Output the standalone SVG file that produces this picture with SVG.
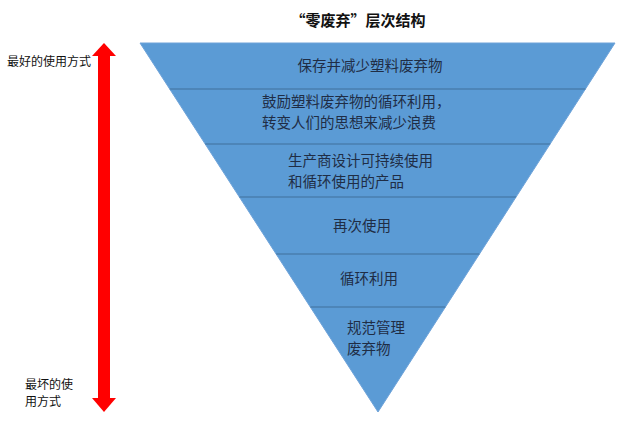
<svg xmlns="http://www.w3.org/2000/svg" width="640" height="429" viewBox="0 0 640 429">
<style>
.t{font-family:"Noto Sans CJK SC","Noto Sans CJK JP",sans-serif;font-size:14.5px;fill:#1f2d45}
.s{font-family:"Noto Sans CJK SC","Noto Sans CJK JP",sans-serif;font-size:12px;fill:#111}
.ttl{font-family:"Noto Sans CJK SC","Noto Sans CJK JP",sans-serif;font-size:15px;font-weight:bold;fill:#111}
.div{stroke:#41719c;stroke-width:1.2}
</style>
<rect width="640" height="429" fill="#fff"/>
<text class="ttl" x="358" y="26" text-anchor="middle">“零废弃”层次结构</text>
<g id="pyramid">
<polygon points="140,43 615,43 378,412" fill="#5b9bd5" stroke="#6fa3d9" stroke-width="1"/>
</g>
<g id="connectors">
<line class="div" x1="169.7" y1="89" x2="585.6" y2="89"/>
<line class="div" x1="205.2" y1="144" x2="550.2" y2="144"/>
<line class="div" x1="239.4" y1="197" x2="516.1" y2="197"/>
<line class="div" x1="276.2" y1="254" x2="479.5" y2="254"/>
<line class="div" x1="310.4" y1="307" x2="445.5" y2="307"/>
</g>
<g id="layer1"><text class="t" x="370" y="71" text-anchor="middle">保存并减少塑料废弃物</text></g>
<g id="layer2"><text class="t"><tspan x="262" y="106.5">鼓励塑料废弃物的循环利用，</tspan><tspan x="262" y="127.5">转变人们的思想来减少浪费</tspan></text></g>
<g id="layer3"><text class="t"><tspan x="288" y="166">生产商设计可持续使用</tspan><tspan x="288" y="187">和循环使用的产品</tspan></text></g>
<g id="layer4"><text class="t" x="362" y="231" text-anchor="middle">再次使用</text></g>
<g id="layer5"><text class="t" x="369" y="284" text-anchor="middle">循环利用</text></g>
<g id="layer6"><text class="t"><tspan x="347" y="332.5">规范管理</tspan><tspan x="347" y="353.5">废弃物</tspan></text></g>
<g id="arrow">
<rect x="98" y="55" width="12" height="345" fill="#f00"/>
<polygon points="104,43 92,56 116,56" fill="#f00"/>
<polygon points="104,412 92,398 116,398" fill="#f00"/>
</g>
<g id="label-best"><text class="s" x="7" y="66">最好的使用方式</text></g>
<g id="label-worst"><text class="s"><tspan x="25" y="389">最坏的使</tspan><tspan x="25" y="406">用方式</tspan></text></g>
</svg>
